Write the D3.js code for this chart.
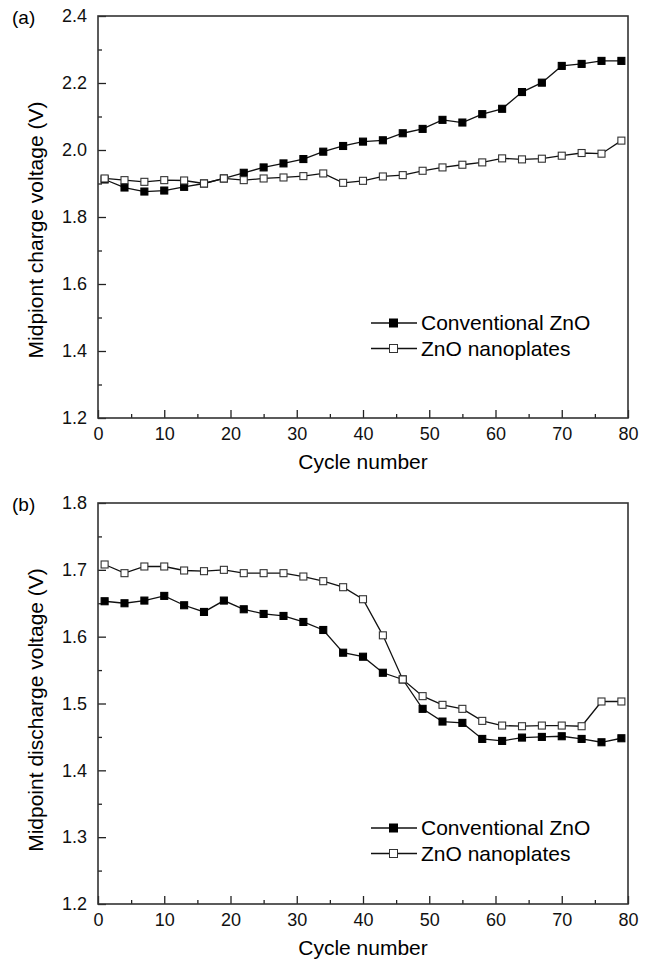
<!DOCTYPE html>
<html>

<head>
  <meta charset="utf-8">
  <script src="https://d3js.org/d3.v7.min.js"></script>
  <style>
    body {
      margin: 0;
      background: #fff;
      font-family: "Liberation Sans", Arial, sans-serif;
    }

    .axis text {
      font-size: 18px;
      fill: #111;
    }

    .axis path {
      display: none;
    }

    .axis line {
      stroke: #222;
      stroke-width: 1.3px;
    }
  </style>
</head>

<body>
  <div id="chart"></div>
  <script>
    // cycle numbers (every 3rd cycle)
    var cycles = [1, 4, 7, 10, 13, 16, 19, 22, 25, 28, 31, 34, 37, 40, 43, 46, 49, 52, 55, 58, 61, 64, 67, 70, 73, 76, 79];

    // (a) midpoint charge voltage
    var chargeConv = [1.912, 1.888, 1.876, 1.879, 1.890, 1.900, 1.915, 1.932, 1.948, 1.960, 1.973, 1.995, 2.012, 2.025,
      2.029, 2.050, 2.063, 2.090, 2.082, 2.107, 2.123, 2.173, 2.201, 2.251, 2.257, 2.266, 2.266];
    var chargeNano = [1.915, 1.910, 1.905, 1.910, 1.909, 1.900, 1.915, 1.910, 1.915, 1.918, 1.922, 1.930, 1.902, 1.908,
      1.921, 1.925, 1.938, 1.948, 1.956, 1.963, 1.975, 1.972, 1.974, 1.983, 1.991, 1.989, 2.028];

    // (b) midpoint discharge voltage
    var dischargeConv = [1.653, 1.650, 1.654, 1.661, 1.647, 1.637, 1.654, 1.641, 1.634, 1.631, 1.622, 1.610, 1.576, 1.570,
      1.546, 1.536, 1.492, 1.473, 1.471, 1.447, 1.444, 1.449, 1.450, 1.451, 1.447, 1.442, 1.448];
    var dischargeNano = [1.708, 1.695, 1.705, 1.705, 1.699, 1.698, 1.700, 1.695, 1.695, 1.695, 1.690, 1.683, 1.674, 1.656,
      1.602, 1.536, 1.511, 1.498, 1.492, 1.474, 1.467, 1.466, 1.467, 1.467, 1.466, 1.503, 1.503];

    var seriesNames = ["Conventional ZnO", "ZnO nanoplates"];
    var xTicks = [0, 10, 20, 30, 40, 50, 60, 70, 80];
    var xMinor = [5, 15, 25, 35, 45, 55, 65, 75];
    var yTicksA = [1.2, 1.4, 1.6, 1.8, 2.0, 2.2, 2.4];
    var yMinorA = [1.3, 1.5, 1.7, 1.9, 2.1, 2.3];
    var yTicksB = [1.2, 1.3, 1.4, 1.5, 1.6, 1.7, 1.8];
    var yMinorB = [1.25, 1.35, 1.45, 1.55, 1.65, 1.75];

    var W = 653, H = 961;
    var left = 98, right = 628;

    var svg = d3.select("#chart").append("svg")
      .attr("width", W)
      .attr("height", H);

    var x = d3.scaleLinear().domain([0, 80]).range([left, right]);

    function panel(opt) {
      var y = d3.scaleLinear().domain(opt.yDomain).range([opt.bottom, opt.top]);
      var g = svg.append("g");

      // x axis, ticks pointing inward
      g.append("g").attr("class", "axis")
        .attr("transform", "translate(0," + opt.bottom + ")")
        .call(d3.axisBottom(x).tickValues(xTicks).tickSize(-8).tickPadding(9));
      g.append("g").attr("class", "axis")
        .attr("transform", "translate(0," + opt.bottom + ")")
        .call(d3.axisBottom(x).tickValues(xMinor).tickSize(-4).tickFormat(""));

      g.append("g").attr("class", "axis")
        .attr("transform", "translate(" + left + ",0)")
        .call(d3.axisLeft(y).tickValues(opt.yTicks).tickSize(-8).tickPadding(11).tickFormat(d3.format(".1f")));
      g.append("g").attr("class", "axis")
        .attr("transform", "translate(" + left + ",0)")
        .call(d3.axisLeft(y).tickValues(opt.yMinor).tickSize(-4).tickFormat(""));

      // frame
      g.append("rect")
        .attr("x", left).attr("y", opt.top)
        .attr("width", right - left).attr("height", opt.bottom - opt.top)
        .attr("fill", "none").attr("stroke", "#333").attr("stroke-width", 1.6);

      var clipId = "clip" + opt.tag;
      g.append("clipPath").attr("id", clipId).append("rect")
        .attr("x", left).attr("y", opt.top)
        .attr("width", right - left).attr("height", opt.bottom - opt.top);

      var line = d3.line().x(d => x(d[0])).y(d => y(d[1]));
      var plot = g.append("g").attr("clip-path", "url(#" + clipId + ")");

      [opt.conv, opt.nano].forEach(function (vals, si) {
        var pts = cycles.map((c, i) => [c, vals[i]]);
        plot.append("path")
          .datum(pts)
          .attr("d", line)
          .attr("fill", "none")
          .attr("stroke", "#111")
          .attr("stroke-width", 1.3);
        plot.selectAll(".m" + si)
          .data(pts)
          .enter().append("rect")
          .attr("x", d => x(d[0]) - 3.5)
          .attr("y", d => y(d[1]) - 3.5)
          .attr("width", 7)
          .attr("height", 7)
          .attr("fill", si === 0 ? "#000" : "#fff")
          .attr("stroke", si === 0 ? "#000" : "#333")
          .attr("stroke-width", 1.1);
      });

      // axis titles
      g.append("text")
        .attr("x", (left + right) / 2)
        .attr("y", opt.bottom + 51)
        .attr("text-anchor", "middle")
        .style("font-size", "21px")
        .text("Cycle number");

      g.append("text")
        .attr("transform", "translate(36," + opt.yTitleY + ") rotate(-90)")
        .attr("text-anchor", "middle")
        .attr("dy", "0.35em")
        .style("font-size", "21px")
        .text(opt.yTitle);

      g.append("text")
        .attr("x", 12)
        .attr("y", opt.top + 8)
        .style("font-size", "19px")
        .text(opt.label);

      // legend
      var lg = g.append("g").attr("transform", "translate(371," + opt.legendY + ")");
      seriesNames.forEach(function (name, i) {
        var row = lg.append("g").attr("transform", "translate(0," + i * 25.5 + ")");
        row.append("line").attr("x1", 0).attr("x2", 46).attr("y1", 0).attr("y2", 0)
          .attr("stroke", "#111").attr("stroke-width", 1.3);
        row.append("rect").attr("x", 18.5).attr("y", -4).attr("width", 8).attr("height", 8)
          .attr("fill", i === 0 ? "#000" : "#fff")
          .attr("stroke", i === 0 ? "#000" : "#333").attr("stroke-width", 1);
        row.append("text").attr("x", 50).attr("dy", "0.35em")
          .style("font-size", "21px")
          .text(name);
      });
    }

    panel({
      tag: "a", top: 16, bottom: 418, yDomain: [1.2, 2.4],
      yTicks: yTicksA, yMinor: yMinorA,
      conv: chargeConv, nano: chargeNano,
      yTitle: "Midpiont charge voltage (V)", yTitleY: 230,
      label: "(a)", legendY: 323
    });

    panel({
      tag: "b", top: 503, bottom: 904, yDomain: [1.2, 1.8],
      yTicks: yTicksB, yMinor: yMinorB,
      conv: dischargeConv, nano: dischargeNano,
      yTitle: "Midpoint discharge voltage (V)", yTitleY: 710,
      label: "(b)", legendY: 828
    });
  </script>
</body>

</html>
